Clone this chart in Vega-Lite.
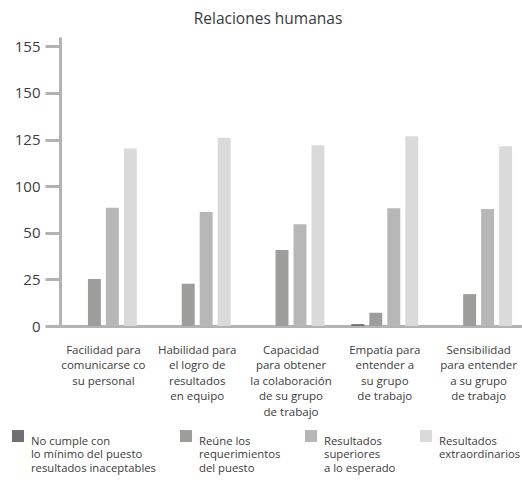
{
  "$schema": "https://vega.github.io/schema/vega-lite/v6.json",
  "width": 462,
  "height": 289,
  "autosize": {"type": "none"},
  "padding": {"left": 60, "top": 37, "right": 0, "bottom": 159},
  "background": "white",
  "title": {"text": "Relaciones humanas", "font": "Open Sans", "fontSize": 15.5, "fontWeight": "normal", "color": "#3a3a3a", "anchor": "middle", "dx": -23, "offset": 10},
  "config": {"view": {"stroke": null}, "font": "Open Sans"},
  "data": {"values": [
    {"aspecto": "Facilidad para\ncomunicarse co\nsu personal", "nivel": "No cumple con\nlo mínimo del puesto\nresultados inaceptables", "valor": 0},
    {"aspecto": "Facilidad para\ncomunicarse co\nsu personal", "nivel": "Reúne los\nrequerimientos\ndel puesto", "valor": 25.2},
    {"aspecto": "Facilidad para\ncomunicarse co\nsu personal", "nivel": "Resultados\nsuperiores\na lo esperado", "valor": 63.4},
    {"aspecto": "Facilidad para\ncomunicarse co\nsu personal", "nivel": "Resultados\nextraordinarios", "valor": 95.2},
    {"aspecto": "Habilidad para\nel logro de\nresultados\nen equipo", "nivel": "No cumple con\nlo mínimo del puesto\nresultados inaceptables", "valor": 0},
    {"aspecto": "Habilidad para\nel logro de\nresultados\nen equipo", "nivel": "Reúne los\nrequerimientos\ndel puesto", "valor": 22.7},
    {"aspecto": "Habilidad para\nel logro de\nresultados\nen equipo", "nivel": "Resultados\nsuperiores\na lo esperado", "valor": 61.2},
    {"aspecto": "Habilidad para\nel logro de\nresultados\nen equipo", "nivel": "Resultados\nextraordinarios", "valor": 100.9},
    {"aspecto": "Capacidad\npara obtener\nla colaboración\nde su grupo\nde trabajo", "nivel": "No cumple con\nlo mínimo del puesto\nresultados inaceptables", "valor": 0},
    {"aspecto": "Capacidad\npara obtener\nla colaboración\nde su grupo\nde trabajo", "nivel": "Reúne los\nrequerimientos\ndel puesto", "valor": 40.7},
    {"aspecto": "Capacidad\npara obtener\nla colaboración\nde su grupo\nde trabajo", "nivel": "Resultados\nsuperiores\na lo esperado", "valor": 54.6},
    {"aspecto": "Capacidad\npara obtener\nla colaboración\nde su grupo\nde trabajo", "nivel": "Resultados\nextraordinarios", "valor": 97.0},
    {"aspecto": "Empatía para\nentender a\nsu grupo\nde trabajo", "nivel": "No cumple con\nlo mínimo del puesto\nresultados inaceptables", "valor": 1.0},
    {"aspecto": "Empatía para\nentender a\nsu grupo\nde trabajo", "nivel": "Reúne los\nrequerimientos\ndel puesto", "valor": 7.1},
    {"aspecto": "Empatía para\nentender a\nsu grupo\nde trabajo", "nivel": "Resultados\nsuperiores\na lo esperado", "valor": 63.2},
    {"aspecto": "Empatía para\nentender a\nsu grupo\nde trabajo", "nivel": "Resultados\nextraordinarios", "valor": 101.8},
    {"aspecto": "Sensibilidad\npara entender\na su grupo\nde trabajo", "nivel": "No cumple con\nlo mínimo del puesto\nresultados inaceptables", "valor": 0},
    {"aspecto": "Sensibilidad\npara entender\na su grupo\nde trabajo", "nivel": "Reúne los\nrequerimientos\ndel puesto", "valor": 17.1},
    {"aspecto": "Sensibilidad\npara entender\na su grupo\nde trabajo", "nivel": "Resultados\nsuperiores\na lo esperado", "valor": 62.7},
    {"aspecto": "Sensibilidad\npara entender\na su grupo\nde trabajo", "nivel": "Resultados\nextraordinarios", "valor": 96.4}
  ]},
  "mark": {"type": "bar"},
  "encoding": {
    "x": {
      "field": "aspecto", "type": "nominal", "sort": null,
      "scale": {"paddingInner": 0.287, "paddingOuter": 0.106},
      "axis": {
        "title": null, "labelAngle": 0, "ticks": false,
        "domainColor": "#b3b3b3", "domainWidth": 3,
        "labelFont": "Open Sans", "labelFontSize": 11.5, "labelLineHeight": 15.5,
        "labelBaseline": "top", "labelPadding": 18, "labelColor": "#3c3c3c", "labelLimit": 200,
        "labelExpr": "split(datum.label, '\\n')"
      }
    },
    "xOffset": {
      "field": "nivel", "type": "nominal", "sort": null,
      "scale": {"paddingInner": 0.28, "paddingOuter": 0}
    },
    "y": {
      "field": "valor", "type": "quantitative",
      "scale": {"domain": [0, 155], "nice": false},
      "axis": {
        "title": null, "grid": false, "values": [0, 25, 50, 75, 100, 125, 150],
        "labelExpr": "datum.value == 75 ? '100' : datum.value == 100 ? '125' : datum.value == 125 ? '150' : datum.value == 150 ? '155' : datum.label",
        "domainColor": "#b3b3b3", "domainWidth": 3,
        "tickColor": "#b3b3b3", "tickWidth": 3, "tickSize": 15,
        "labelFont": "Open Sans", "labelFontSize": 15, "labelColor": "#3c3c3c", "labelPadding": 5
      }
    },
    "color": {
      "field": "nivel", "type": "nominal", "sort": null,
      "scale": {
        "domain": ["No cumple con\nlo mínimo del puesto\nresultados inaceptables", "Reúne los\nrequerimientos\ndel puesto", "Resultados\nsuperiores\na lo esperado", "Resultados\nextraordinarios"],
        "range": ["#6f6f6e", "#9d9d9c", "#b7b7b7", "#dadada"]
      },
      "legend": {
        "title": null, "orient": "none", "legendX": -48, "legendY": 393,
        "direction": "horizontal", "columns": 4, "padding": 0,
        "symbolType": "square", "symbolSize": 144, "symbolStrokeWidth": 0,
        "labelFont": "Open Sans", "labelFontSize": 11.3, "labelLineHeight": 15.5, "labelColor": "#3c3c3c",
        "labelOffset": 7, "columnPadding": 24, "labelBaseline": "top", "labelLimit": 200,
        "labelExpr": "length(split(datum.label, '\\n')) < 3 ? split(datum.label + '\\n ', '\\n') : split(datum.label, '\\n')"
      }
    }
  }
}
